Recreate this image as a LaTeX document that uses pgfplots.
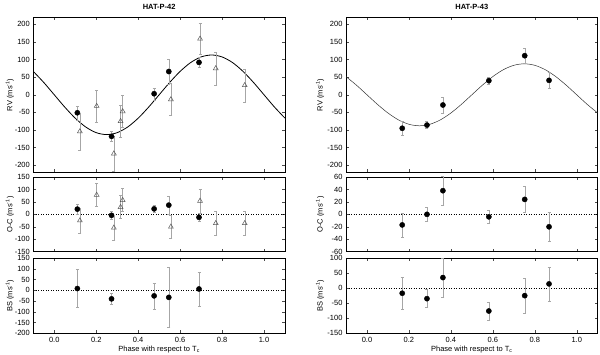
\documentclass[border=0pt]{standalone}
\usepackage{fontspec}
\setmainfont{Liberation Sans}
\usepackage{pgfplots}
\usepackage{pgfplotstable}
\pgfplotsset{compat=1.18}

% ---- HAT-P-42 ----
\pgfplotstableread{
x y e
0.110 -51 20
0.273 -118 15
0.476 3 17
0.546 66 35
0.690 92 15
}\rvAc
\pgfplotstableread{
x y e
0.122 -104 53
0.202 -32 45
0.284 -167 50
0.316 -75 45
0.326 -47 45
0.556 -13 45
0.695 159 45
0.770 75 47
0.908 27 47
}\rvAt
\pgfplotstableread{
x y e
0.110 21 20
0.273 -4 15
0.476 22 15
0.546 37 35
0.690 -12 16
}\ocAc
\pgfplotstableread{
x y e
0.122 -25 50
0.202 78 46
0.284 -54 48
0.316 29 46
0.326 57 46
0.556 -50 45
0.695 54 48
0.770 -36 47
0.908 -36 47
}\ocAt
\pgfplotstableread{
x y e
0.110 8 89
0.273 -40 25
0.476 -26 61
0.546 -33 139
0.690 6 78
}\bsA
% ---- HAT-P-43 ----
\pgfplotstableread{
x y e
0.168 -95 21
0.286 -86 10
0.362 -29 23
0.581 40 10
0.752 111 21
0.868 41 22
}\rvB
\pgfplotstableread{
x y e
0.168 -17 19
0.286 0 11
0.362 38 23
0.581 -4 11
0.752 24 21
0.868 -20 23
}\ocB
\pgfplotstableread{
x y e
0.168 -17 54
0.286 -35 30
0.362 35 64
0.581 -76 30
0.752 -25 57
0.868 14 57
}\bsB

\pgfplotsset{
  panel/.style={
    scale only axis, width=251.7pt,
    xmin=-0.1, xmax=1.1,
    xtick={0,0.2,0.4,0.6,0.8,1.0},
    tick align=inside, major tick length=3pt,
    tick style={gray!60!black, line width=0.4pt},
    axis line style={black, line width=0.7pt},
    font=\fontsize{7.5}{9}\selectfont,
    /pgf/number format/assume math mode=true,
    xticklabel style={/pgf/number format/.cd, fixed, fixed zerofill, precision=1},
    ylabel style={at={(axis description cs:-0.093,0.5)}, anchor=center},
    title style={font=\fontsize{7.5}{9}\selectfont\bfseries, yshift=-2pt},
    anchor=south west,
  },
  nox/.style={xticklabels={}},
  circ/.style={only marks, mark=*, mark size=2.6pt, black,
    error bars/.cd, y dir=both, y explicit,
    error bar style={gray!70, line width=0.4pt},
    error mark options={rotate=90, mark size=1.5pt, gray!70, line width=0.4pt}},
  tri/.style={only marks, mark=triangle, mark size=2.8pt, gray!70!black,
    mark options={line width=0.5pt},
    error bars/.cd, y dir=both, y explicit,
    error bar style={gray!70, line width=0.4pt},
    error mark options={rotate=90, mark size=1.5pt, gray!70, line width=0.4pt}},
  zero/.style={black, dotted, line width=0.5pt, no marks},
}

\begin{document}
\begin{tikzpicture}
\useasboundingbox (0,0) rectangle (600pt,355pt);

% ===== HAT-P-42 =====
\begin{axis}[panel, nox, at={(33.3pt,182.7pt)}, height=155pt,
  ymin=-220, ymax=220, ytick={-200,-150,...,200},
  ylabel={RV (ms\textsuperscript{-1})}, title={HAT-P-42}]
\addplot[black, line width=0.8pt, smooth, no marks] coordinates {
(-0.10,66.4)(-0.05,34.9)(0.00,0)(0.05,-34.9)(0.10,-66.4)(0.15,-91.4)(0.20,-107.5)
(0.25,-113)(0.30,-107.5)(0.35,-91.4)(0.40,-66.4)(0.45,-34.9)(0.50,0)(0.55,34.9)
(0.60,66.4)(0.65,91.4)(0.70,107.5)(0.75,113)(0.80,107.5)(0.85,91.4)(0.90,66.4)
(0.95,34.9)(1.00,0)(1.05,-34.9)(1.10,-66.4)};
\addplot[tri] table[x=x, y=y, y error=e] {\rvAt};
\addplot[circ] table[x=x, y=y, y error=e] {\rvAc};
\end{axis}

\begin{axis}[panel, nox, at={(33.3pt,103.3pt)}, height=74.7pt,
  ymin=-150, ymax=150, ytick={-150,-100,...,150},
  ylabel={O-C (ms\textsuperscript{-1})}]
\addplot[zero] coordinates {(-0.1,0)(1.1,0)};
\addplot[tri] table[x=x, y=y, y error=e] {\ocAt};
\addplot[circ] table[x=x, y=y, y error=e] {\ocAc};
\end{axis}

\begin{axis}[panel, at={(33.3pt,21.7pt)}, height=75.3pt,
  ymin=-200, ymax=150, ytick={-200,-150,...,150},
  ylabel={BS (ms\textsuperscript{-1})},
  xlabel={Phase with respect to T\textsubscript{c}},
  xlabel style={yshift=3pt}]
\addplot[zero] coordinates {(-0.1,0)(1.1,0)};
\addplot[circ] table[x=x, y=y, y error=e] {\bsA};
\end{axis}

% ===== HAT-P-43 =====
\begin{axis}[panel, nox, at={(346pt,182.7pt)}, height=155pt,
  ymin=-220, ymax=220, ytick={-200,-150,...,200},
  ylabel style={at={(axis description cs:-0.103,0.5)}},
  ylabel={RV (ms\textsuperscript{-1})}, title={HAT-P-43}]
\addplot[black!80, line width=0.5pt, smooth, no marks] coordinates {
(-0.10,51.7)(-0.05,27.2)(0.00,0)(0.05,-27.2)(0.10,-51.7)(0.15,-71.2)(0.20,-83.7)
(0.25,-88)(0.30,-83.7)(0.35,-71.2)(0.40,-51.7)(0.45,-27.2)(0.50,0)(0.55,27.2)
(0.60,51.7)(0.65,71.2)(0.70,83.7)(0.75,88)(0.80,83.7)(0.85,71.2)(0.90,51.7)
(0.95,27.2)(1.00,0)(1.05,-27.2)(1.10,-51.7)};
\addplot[circ] table[x=x, y=y, y error=e] {\rvB};
\end{axis}

\begin{axis}[panel, nox, at={(346pt,103.3pt)}, height=74.7pt,
  ymin=-60, ymax=60, ytick={-60,-40,...,60},
  ylabel style={at={(axis description cs:-0.103,0.5)}},
  ylabel={O-C (ms\textsuperscript{-1})}]
\addplot[zero] coordinates {(-0.1,0)(1.1,0)};
\addplot[circ] table[x=x, y=y, y error=e] {\ocB};
\end{axis}

\begin{axis}[panel, at={(346pt,21.7pt)}, height=75.3pt,
  ymin=-150, ymax=100, ytick={-150,-100,...,100},
  ylabel style={at={(axis description cs:-0.103,0.5)}},
  ylabel={BS (ms\textsuperscript{-1})},
  xlabel={Phase with respect to T\textsubscript{c}},
  xlabel style={yshift=3pt}]
\addplot[zero] coordinates {(-0.1,0)(1.1,0)};
\addplot[circ] table[x=x, y=y, y error=e] {\bsB};
\end{axis}
\end{tikzpicture}
\end{document}
